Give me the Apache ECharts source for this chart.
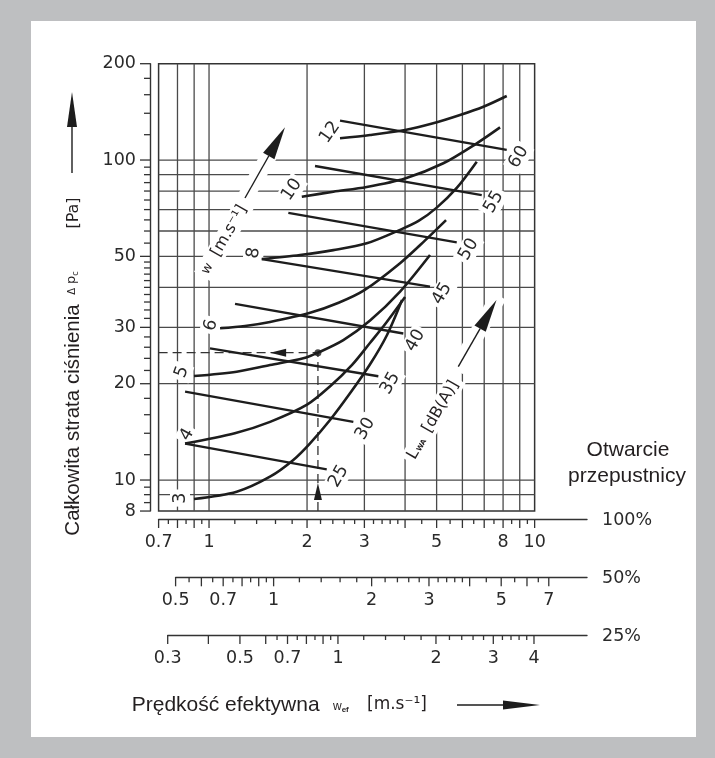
<!DOCTYPE html>
<html><head><meta charset="utf-8">
<script src="https://cdn.jsdelivr.net/npm/echarts@6/dist/echarts.min.js"></script>
<style>html,body{margin:0;padding:0;background:#bebfc1;}#c{width:715px;height:758px;}</style>
</head><body><div id="c"></div>
<script>
// ================= DATA =================
const X_MIN = 0.7, X_MAX = 10, Y_MIN = 8, Y_MAX = 200;
const gridX = [0.8, 0.9, 1, 2, 3, 4, 5, 6, 7, 8, 9];
const gridY = [9, 10, 20, 30, 40, 50, 60, 70, 80, 90, 100];

const yTickMajor = [8, 10, 20, 30, 50, 100, 200];
const yTickMinor = [8.5, 9, 9.5, 12, 14, 16, 18, 22, 24, 26, 28, 32, 34, 36, 38, 40, 42, 44, 46, 48,
  55, 60, 65, 70, 75, 80, 85, 90, 95, 120, 140, 160, 180];
const yTickLabels = [8, 10, 20, 30, 50, 100, 200];

// bottom scales (damper opening 100 %, 50 %, 25 %)
const scaleNames = ['100%', '50%', '25%'];
const scaleMin = [0.7, 0.5, 0.3];
const s100Labels = [0.7, 1, 2, 3, 5, 8, 10];
const s100Long = [0.7, 0.8, 0.9, 1, 2, 3, 4, 5, 6, 7, 8, 9, 10];
const s100Short = [0.75, 0.85, 0.95, 1.2, 1.4, 1.6, 1.8, 2.2, 2.4, 2.6, 2.8, 3.2, 3.4, 3.6, 3.8, 4.5, 5.5, 6.5, 7.5, 8.5, 9.5];
const s50Labels = [0.5, 0.7, 1, 2, 3, 5, 7];
const s50Long = [0.5, 0.6, 0.7, 0.8, 0.9, 1, 2, 3, 4, 5, 6, 7];
const s50Short = [0.55, 0.65, 0.75, 0.85, 0.95, 1.2, 1.4, 1.6, 1.8, 2.2, 2.4, 2.6, 2.8, 3.2, 3.4, 3.6, 3.8, 4.5, 5.5, 6.5];
const s25Labels = [0.3, 0.5, 0.7, 1, 2, 3, 4];
const s25Long = [0.3, 0.4, 0.5, 0.6, 0.7, 0.8, 0.9, 1, 2, 3, 4];
const s25Short = [0.65, 0.75, 0.85, 0.95, 1.2, 1.4, 1.6, 1.8, 2.2, 2.4, 2.6, 2.8, 3.2, 3.4, 3.6, 3.8];

// curves: constant duct velocity w [m/s]
const wLabels = ['3', '4', '5', '6', '8', '10', '12'];
const w3 = [[0.899, 8.72], [1.216, 9.19], [1.539, 10.24], [1.815, 11.55], [2.043, 13.02], [2.353, 15.4], [2.71, 18.66], [3.123, 23.0], [3.521, 28.4], [3.915, 36.5]];
const w4 = [[0.844, 13.0], [1.2, 14.0], [1.54, 15.2], [2.0, 17.2], [2.35, 19.6], [2.75, 22.9], [3.12, 26.8], [3.5, 31.0], [4.0, 37.3]];
const w5 = [[0.899, 21.13], [1.216, 21.8], [1.539, 22.88], [1.948, 24.0], [2.16, 25.0], [2.585, 27.38], [3.123, 31.5], [3.861, 38.8], [4.772, 50.5]];
const w6 = [[1.081, 29.8], [1.29, 30.3], [1.539, 31.2], [2.043, 33.3], [2.5, 35.8], [3.0, 39.2], [3.861, 47.6], [4.6, 56.0], [5.345, 64.9]];
const w8 = [[1.452, 49.05], [1.903, 50.5], [2.409, 52.3], [3.05, 54.9], [3.861, 60.5], [4.4, 64.5], [5.004, 71.0], [5.765, 81.8], [6.641, 98.8]];
const w10 = [[1.927, 76.8], [2.409, 79.6], [3.05, 82.4], [4.0, 87.6], [5.243, 97.7], [6.641, 112.8], [7.83, 126.5]];
const w12 = [[2.525, 116.9], [3.123, 119.7], [4.0, 124.1], [4.88, 130.2], [5.9, 138.2], [6.96, 146.7], [8.21, 158.5]];

// iso-lines of sound power level L_WA [dB(A)]
const isoLabels = ['25', '30', '35', '40', '45', '50', '55', '60'];
const iso25 = [[0.844, 13.0], [2.299, 10.8]];
const iso30 = [[0.844, 18.9], [2.775, 15.2]];
const iso35 = [[1.007, 25.8], [3.311, 21.1]];
const iso40 = [[1.202, 35.5], [3.951, 28.7]];
const iso45 = [[1.452, 49.05], [4.772, 40.2]];
const iso50 = [[1.752, 68.4], [5.765, 55.3]];
const iso55 = [[2.116, 95.8], [6.88, 77.7]];
const iso60 = [[2.525, 132.7], [8.21, 107.5]];

// worked example: w_ef = 2.16 m/s -> 25 Pa
const example = [2.16, 25];

// ================= LAYOUT / STYLE =================
const INK = '#1d1d1d', GRIDC = '#4a4a4a';
const TECH = '"DejaVu Sans"';
const SANS = '"Liberation Sans", Arial, sans-serif';
const DEC_X = 325.6, DEC_Y = 320;           // px per decade
const PL = 158.6, PT = 63.7;
const PW = DEC_X * Math.log10(X_MAX / X_MIN);
const PH = DEC_Y * Math.log10(Y_MAX / Y_MIN);
const AXIS_END = 587;
const scaleLeft = [158.6, 175.6, 167.7];
const scaleTop = [519, 577.3, 635];
const deg = Math.PI / 180;
// label placement relative to curve start / iso-line end (px) and rotation (deg)
const wLabelPos = [[-14, -1, 90], [2, -9, 60], [-12, -4, 70], [-9, -3, 75], [-8, -6, 80], [-10, -7, 55], [-10, -6, 55]];
const isoLabelPos = [12, 7, 60];

const curves = [w3, w4, w5, w6, w8, w10, w12];
const isos = [iso25, iso30, iso35, iso40, iso45, iso50, iso55, iso60];
const scaleLabelSets = [s100Labels, s50Labels, s25Labels];
const scaleLongSets = [s100Long, s50Long, s25Long];
const scaleShortSets = [s100Short, s50Short, s25Short];

const hide = {axisLine: {show: false}, axisTick: {show: false}, axisLabel: {show: false}, splitLine: {show: false}};

const grids = [{left: PL, top: PT, width: PW, height: PH, show: true, borderColor: '#333', borderWidth: 1.5}];
const xAxes = [Object.assign({type: 'log', logBase: 10, gridIndex: 0, min: X_MIN, max: X_MAX}, hide)];
const yAxes = [Object.assign({type: 'log', logBase: 10, gridIndex: 0, min: Y_MIN, max: Y_MAX}, hide)];
for (let i = 0; i < 3; i++) {
  const w = AXIS_END - scaleLeft[i];
  grids.push({left: scaleLeft[i], top: scaleTop[i], width: w, height: 12});
  xAxes.push(Object.assign({}, hide, {type: 'log', logBase: 10, gridIndex: i + 1, position: 'top',
    min: scaleMin[i], max: scaleMin[i] * Math.pow(10, w / DEC_X),
    axisLine: {show: true, onZero: false, lineStyle: {color: '#333', width: 1.4}}}));
  yAxes.push(Object.assign({type: 'value', gridIndex: i + 1, min: 0, max: 1}, hide));
}
// y-axis scale grid (index 4)
grids.push({left: 150, top: PT, width: 1, height: PH});
xAxes.push(Object.assign({type: 'value', gridIndex: 4, min: 0, max: 1}, hide));
yAxes.push(Object.assign({}, hide, {type: 'log', logBase: 10, gridIndex: 4, min: Y_MIN, max: Y_MAX,
  axisLine: {show: true, lineStyle: {color: '#333', width: 1.4}}}));

const series = [];
const txt = (o) => { o.textAlign = o.align; o.textVerticalAlign = o.verticalAlign; return o; };

// grid lines
series.push({type: 'custom', xAxisIndex: 0, yAxisIndex: 0, z: 1, silent: true,
  data: gridX.map(v => [v, Y_MIN]),
  renderItem: (p, api) => { const a = api.coord([api.value(0), Y_MIN]), b = api.coord([api.value(0), Y_MAX]);
    return {type: 'line', shape: {x1: a[0], y1: a[1], x2: b[0], y2: b[1]}, style: {stroke: GRIDC, lineWidth: 1.3}}; }});
series.push({type: 'custom', xAxisIndex: 0, yAxisIndex: 0, z: 1, silent: true,
  data: gridY.map(v => [X_MIN, v]),
  renderItem: (p, api) => { const a = api.coord([X_MIN, api.value(1)]), b = api.coord([X_MAX, api.value(1)]);
    return {type: 'line', shape: {x1: a[0], y1: a[1], x2: b[0], y2: b[1]}, style: {stroke: GRIDC, lineWidth: 1.3}}; }});

// y ticks & labels
const yTick = (vals, len) => ({type: 'custom', xAxisIndex: 4, yAxisIndex: 4, z: 2, silent: true,
  data: vals.map(v => [0, v]),
  renderItem: (p, api) => { const c = api.coord([0, api.value(1)]);
    return {type: 'line', shape: {x1: c[0] - len, y1: c[1], x2: c[0], y2: c[1]}, style: {stroke: '#333', lineWidth: 1.3}}; }});
series.push(yTick(yTickMajor, 10), yTick(yTickMinor, 6));
series.push({type: 'custom', xAxisIndex: 4, yAxisIndex: 4, z: 2, silent: true,
  data: yTickLabels.map(v => [0, v]),
  renderItem: (p, api) => { const c = api.coord([0, api.value(1)]);
    return {type: 'text', x: c[0] - 14, y: c[1], style: txt({text: String(api.value(1)), font: '17.5px ' + TECH, fill: '#2a2a2a', align: 'right', verticalAlign: 'middle'})}; }});

// bottom scales
for (let i = 0; i < 3; i++) {
  const xt = (vals, len) => ({type: 'custom', xAxisIndex: i + 1, yAxisIndex: i + 1, z: 2, silent: true,
    data: vals.map(v => [v, 1]),
    renderItem: (p, api) => { const c = api.coord([api.value(0), 1]);
      return {type: 'line', shape: {x1: c[0], y1: c[1], x2: c[0], y2: c[1] + len}, style: {stroke: '#333', lineWidth: 1.3}}; }});
  series.push(xt(scaleLongSets[i], 9), xt(scaleShortSets[i], 5));
  series.push({type: 'custom', xAxisIndex: i + 1, yAxisIndex: i + 1, z: 2, silent: true,
    data: scaleLabelSets[i].map(v => [v, 1]),
    renderItem: (p, api) => { const c = api.coord([api.value(0), 1]);
      return {type: 'text', x: c[0], y: c[1] + 23, style: txt({text: String(api.value(0)), font: '17.5px ' + TECH, fill: '#2a2a2a', align: 'center', verticalAlign: 'middle'})}; }});
  series.push({type: 'custom', xAxisIndex: i + 1, yAxisIndex: i + 1, z: 2, silent: true,
    data: [[scaleMin[i], 1]],
    renderItem: (p, api) => { const c = api.coord([scaleMin[i], 1]);
      return {type: 'text', x: AXIS_END + 15, y: c[1] + 1, style: txt({text: scaleNames[i], font: '17.5px ' + TECH, fill: '#2a2a2a', align: 'left', verticalAlign: 'middle'})}; }});
}

// curves
curves.forEach((d, i) => series.push({type: 'line', name: 'w=' + wLabels[i], xAxisIndex: 0, yAxisIndex: 0, data: d,
  smooth: 0.3, symbol: 'none', z: 5, silent: true, lineStyle: {color: INK, width: 2.6}}));
isos.forEach((d, i) => series.push({type: 'line', name: 'L=' + isoLabels[i], xAxisIndex: 0, yAxisIndex: 0, data: d,
  symbol: 'none', z: 5, silent: true, lineStyle: {color: INK, width: 2.3}}));

// curve labels
series.push({type: 'custom', xAxisIndex: 0, yAxisIndex: 0, z: 3, silent: true,
  data: curves.map((d, i) => [d[0][0], d[0][1], i]),
  renderItem: (p, api) => { const i = api.value(2), c = api.coord([api.value(0), api.value(1)]), o = wLabelPos[i];
    return {type: 'text', x: c[0] + o[0], y: c[1] + o[1], rotation: o[2] * deg,
      style: txt({text: wLabels[i], font: '17.5px ' + TECH, fill: '#2a2a2a', align: 'center', verticalAlign: 'middle', backgroundColor: '#fff', padding: [1, 3]})}; }});
series.push({type: 'custom', xAxisIndex: 0, yAxisIndex: 0, z: 3, silent: true,
  data: isos.map((d, i) => [d[1][0], d[1][1], i]),
  renderItem: (p, api) => { const i = api.value(2), c = api.coord([api.value(0), api.value(1)]);
    return {type: 'text', x: c[0] + isoLabelPos[0], y: c[1] + isoLabelPos[1], rotation: isoLabelPos[2] * deg,
      style: txt({text: isoLabels[i], font: '17.5px ' + TECH, fill: '#2a2a2a', align: 'center', verticalAlign: 'middle', backgroundColor: '#fff', padding: [1, 3]})}; }});

// worked example
series.push({type: 'line', xAxisIndex: 0, yAxisIndex: 0, data: [[X_MIN, example[1]], example], symbol: 'none', z: 4, silent: true,
  lineStyle: {color: '#333', width: 1.3, type: [9, 5]}});
series.push({type: 'line', xAxisIndex: 0, yAxisIndex: 0, data: [[example[0], Y_MIN], example], symbol: 'none', z: 4, silent: true,
  lineStyle: {color: '#333', width: 1.3, type: [9, 5]}});
series.push({type: 'scatter', xAxisIndex: 0, yAxisIndex: 0, data: [example], symbolSize: 7, z: 6, silent: true, itemStyle: {color: INK}});
series.push({type: 'custom', xAxisIndex: 0, yAxisIndex: 0, z: 6, silent: true, data: [example],
  renderItem: (p, api) => {
    const e = api.coord(example), l = api.coord([X_MIN, example[1]]), b = api.coord([example[0], Y_MIN]);
    const hx = l[0] + 0.70 * (e[0] - l[0]), vy = b[1] + 0.177 * (e[1] - b[1]);
    return {type: 'group', children: [
      {type: 'polygon', shape: {points: [[hx, e[1]], [hx + 16, e[1] - 4], [hx + 16, e[1] + 4]]}, style: {fill: INK}},
      {type: 'polygon', shape: {points: [[e[0], vy], [e[0] - 4, vy + 17], [e[0] + 4, vy + 17]]}, style: {fill: INK}}
    ]};
  }});

// ================= GRAPHIC (titles, annotations) =================
function arrow(x1, y1, tx, ty, head, half, under) {
  const dx = tx - x1, dy = ty - y1, L = Math.hypot(dx, dy), ux = dx / L, uy = dy / L;
  const bx = tx - ux * head, by = ty - uy * head, nx = -uy, ny = ux;
  const els = [];
  if (under) els.push({type: 'line', z: 3, shape: {x1: x1 - ux * 4, y1: y1 - uy * 4, x2: tx + ux * 5, y2: ty + uy * 5}, style: {stroke: '#fff', lineWidth: 16}});
  els.push({type: 'line', z: 7, shape: {x1, y1, x2: bx, y2: by}, style: {stroke: INK, lineWidth: 1.4}});
  els.push({type: 'polygon', z: 7, shape: {points: [[tx, ty], [bx + nx * half, by + ny * half], [bx - nx * half, by - ny * half]]}, style: {fill: INK}});
  return els;
}
const T = (x, y, text, font, align, rot, extra) => Object.assign({type: 'text', x, y, rotation: (rot || 0) * deg, z: 7,
  style: Object.assign(txt({text, font, fill: '#231f20', align: align || 'center', verticalAlign: 'middle'}), extra || {})});

const graphic = [
  {type: 'rect', z: -100, shape: {x: 31, y: 21, width: 665, height: 716}, style: {fill: '#fff'}},
  T(73, 420, 'Całkowita strata ciśnienia', '20.5px ' + SANS, 'center', 90),
  T(72, 283, '{a|Δ} {b|p}{c|c}', '12px ' + TECH, 'center', 90, {rich: {a: {fontSize: 10, fontFamily: 'DejaVu Sans'}, b: {fontSize: 13, fontFamily: 'DejaVu Sans'}, c: {fontSize: 8, fontFamily: 'DejaVu Sans', padding: [7, 0, 0, 0]}}}),
  T(74, 213, '[Pa]', '16px ' + TECH, 'center', 90),
  ...arrow(72, 173, 72, 92, 35, 5, false),
  T(131.7, 705, 'Prędkość efektywna', '21px ' + SANS, 'left'),
  T(333, 707, '{w|w}{e|ef}', '12px ' + SANS, 'left', 0, {rich: {w: {fontSize: 12, fontFamily: 'Liberation Sans'}, e: {fontSize: 8, fontFamily: 'Liberation Sans', fontWeight: 'bold', padding: [5, 0, 0, 0]}}}),
  T(367, 705, '[m.s⁻¹]', '17px ' + TECH, 'left'),
  ...arrow(457, 705, 540, 705, 37, 4.5, false),
  T(628, 450, 'Otwarcie', '21px ' + SANS, 'center'),
  T(627, 476, 'przepustnicy', '21px ' + SANS, 'center'),
  // in-plot annotations
  T(224, 240, '{w|w}  [m.s⁻¹]', '16px ' + TECH, 'center', 60, {backgroundColor: '#fff', padding: [2, 4], rich: {w: {fontSize: 13, fontFamily: 'DejaVu Sans'}}}),
  ...arrow(245, 198, 285, 127.3, 33, 6.5, true),
  T(433, 420, '{l|L}{s|WA} [dB(A)]', '16px ' + TECH, 'center', 60, {backgroundColor: '#fff', padding: [2, 4], rich: {l: {fontSize: 16, fontFamily: 'DejaVu Sans'}, s: {fontSize: 7, fontFamily: 'DejaVu Sans', fontWeight: 'bold', padding: [6, 3, 0, 1]}}}),
  ...arrow(458.3, 366.7, 496.5, 300, 33, 6.5, true)
];

const chart = echarts.init(document.getElementById('c'), null, {renderer: 'canvas', width: 715, height: 758});
chart.setOption({
  animation: false,
  backgroundColor: '#bebfc1',
  grid: grids, xAxis: xAxes, yAxis: yAxes,
  series, graphic
});
</script></body></html>
